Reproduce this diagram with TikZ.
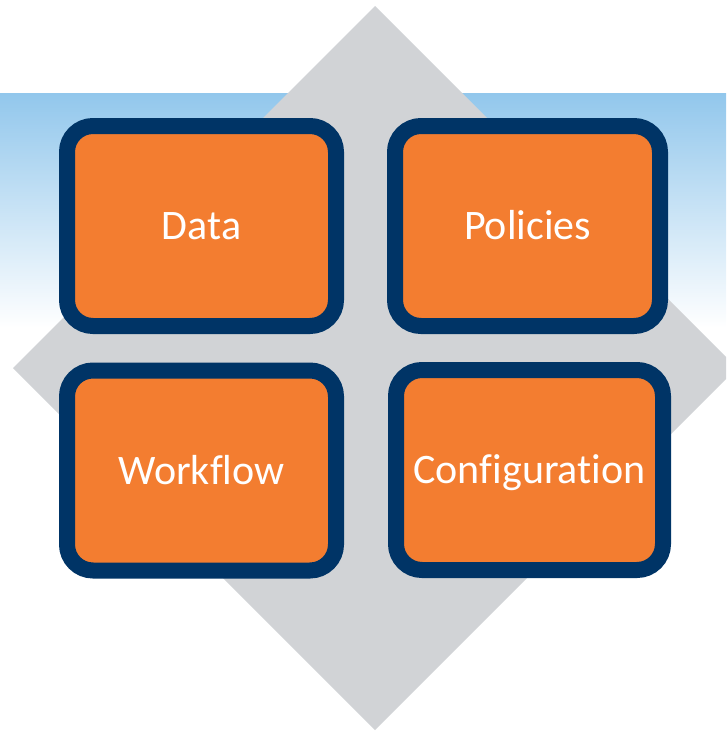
\documentclass[tikz,border=0pt]{standalone}
\usepackage{fontspec}
\setmainfont[Ligatures=NoCommon]{Carlito}
\definecolor{bandblue}{RGB}{146,199,236}
\definecolor{diamondgray}{RGB}{209,211,214}
\definecolor{boxorange}{RGB}{243,125,48}
\definecolor{boxnavy}{RGB}{0,52,102}
\tikzset{
  tile/.style={draw=boxnavy, fill=boxorange, line width=16pt, rounded corners=26pt,
    minimum width=269pt, minimum height=200pt, inner sep=0pt,
    text height=27pt, text depth=0pt,
    text=white, font=\fontsize{42}{48}\selectfont}
}
\begin{document}
\begin{tikzpicture}[x=1pt,y=-1pt]
\useasboundingbox (0,0) rectangle (726,731);
\clip (0,0) rectangle (726,731);
\shade[top color=bandblue, bottom color=white] (0,93) rectangle (726,328);
\fill[diamondgray] (375,6) -- (737,368) -- (375,730) -- (13,368) -- cycle;
\node[tile] (data) at (201.5,226) {Data};
\node[tile, minimum width=265pt] (policies) at (527.5,226) {Policies};
\node[tile] (workflow) at (201.5,470.5) {Workflow};
\node[tile, minimum width=267pt] (config) at (529.5,470) {Configuration};
\end{tikzpicture}
\end{document}
